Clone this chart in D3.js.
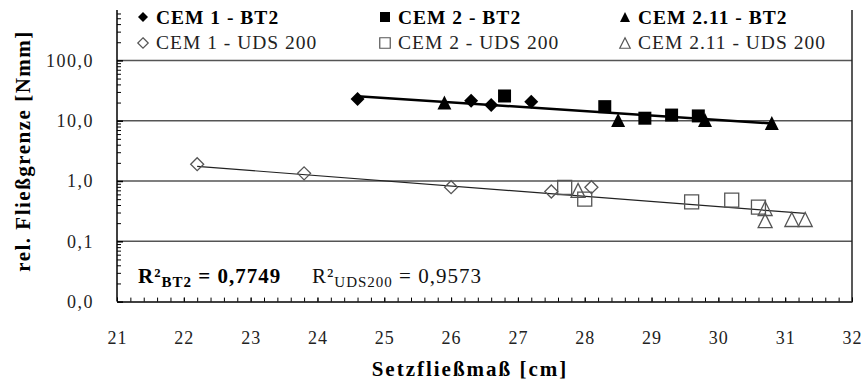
<!DOCTYPE html>
<html>
<head>
<meta charset="utf-8">
<script src="https://cdn.jsdelivr.net/npm/d3@7"></script>
<style>
  html, body { margin: 0; padding: 0; background: #fff; }
  svg { display: block; }
  svg text { font-family: "Liberation Serif", "Times New Roman", Tinos, "DejaVu Serif", serif !important; }
</style>
</head>
<body>
<svg id="chart" width="862" height="382" font-family="Liberation Serif, DejaVu Serif, serif"></svg>
<script>
// ---------------- data ----------------
const xTickValues = [21, 22, 23, 24, 25, 26, 27, 28, 29, 30, 31, 32];
const xTickLabels = ["21", "22", "23", "24", "25", "26", "27", "28", "29", "30", "31", "32"];
const yTickValues = [0.01, 0.1, 1, 10, 100];
const yTickLabels = ["0,0", "0,1", "1,0", "10,0", "100,0"];

const seriesNames = ["CEM 1 - BT2", "CEM 2 - BT2", "CEM 2.11 - BT2",
                     "CEM 1 - UDS 200", "CEM 2 - UDS 200", "CEM 2.11 - UDS 200"];

const cem1BT2X = [24.6, 26.3, 26.6, 27.2];
const cem1BT2Y = [22.9, 21.5, 18.2, 20.7];
const cem2BT2X = [26.8, 28.3, 28.9, 29.3, 29.7];
const cem2BT2Y = [25.7, 17.1, 11.0, 12.4, 12.0];
const cem211BT2X = [25.9, 28.5, 29.8, 30.8];
const cem211BT2Y = [20.0, 10.3, 10.3, 9.2];

const cem1UDSX = [22.2, 23.8, 26.0, 27.5, 28.1];
const cem1UDSY = [1.9, 1.34, 0.79, 0.67, 0.79];
const cem2UDSX = [27.7, 28.0, 29.6, 30.2, 30.6];
const cem2UDSY = [0.78, 0.50, 0.45, 0.48, 0.37];
const cem211UDSX = [27.9, 30.7, 30.7, 31.1, 31.3];
const cem211UDSY = [0.70, 0.35, 0.22, 0.23, 0.23];

// trendlines (start / end of each fitted line)
const trendBT2X = [24.6, 30.8];
const trendBT2Y = [25.5, 9.0];
const trendUDSX = [22.2, 31.3];
const trendUDSY = [1.75, 0.29];

const r2BT2 = "0,7749";
const r2UDS = "0,9573";

// ---------------- layout ----------------
const FONT = "Liberation Serif, DejaVu Serif, serif";
const svg = d3.select("#chart");
const plotLeft = 117, plotRight = 852, plotTop = 10, plotBottom = 301.6;

const x = d3.scaleLinear().domain([21, 32]).range([plotLeft, plotRight]);
const y = d3.scaleLog().domain([0.01, 1000]).range([plotBottom, plotBottom - 5 * 60.3]);

// custom marker shapes (Excel-like)
const diamondType = { draw(ctx, size) { const w = Math.sqrt(size) / 2;
  ctx.moveTo(0, -w); ctx.lineTo(w, 0); ctx.lineTo(0, w); ctx.lineTo(-w, 0); ctx.closePath(); } };
const squareType = { draw(ctx, size) { const w = Math.sqrt(size) / 2;
  ctx.rect(-w, -w, 2 * w, 2 * w); } };
const triangleType = { draw(ctx, size) { const w = Math.sqrt(size) / 2;
  ctx.moveTo(0, -w); ctx.lineTo(w, w); ctx.lineTo(-w, w); ctx.closePath(); } };

const zip = (xs, ys) => xs.map((v, i) => ({ x: v, y: ys[i] }));

const bt2Series = [
  { name: seriesNames[0], pts: zip(cem1BT2X, cem1BT2Y), type: diamondType, size: 196 },
  { name: seriesNames[1], pts: zip(cem2BT2X, cem2BT2Y), type: squareType, size: 169 },
  { name: seriesNames[2], pts: zip(cem211BT2X, cem211BT2Y), type: triangleType, size: 196 }
];
const udsSeries = [
  { name: seriesNames[3], pts: zip(cem1UDSX, cem1UDSY), type: diamondType, size: 169 },
  { name: seriesNames[4], pts: zip(cem2UDSX, cem2UDSY), type: squareType, size: 196 },
  { name: seriesNames[5], pts: zip(cem211UDSX, cem211UDSY), type: triangleType, size: 196 }
];

// ---------------- gridlines ----------------
svg.append("g").selectAll("line").data(yTickValues.filter(v => v > 0.01)).join("line")
  .attr("x1", plotLeft).attr("x2", plotRight)
  .attr("y1", d => y(d)).attr("y2", d => y(d))
  .attr("stroke", "#555").attr("stroke-width", 1.5);

// ---------------- axes ----------------
const yMinor = [];
[0.01, 0.1, 1, 10, 100].forEach(dec => { for (let k = 2; k <= 9; k++) { const v = dec * k; if (y(v) >= plotTop) yMinor.push(v); } });

const yMinorAxis = svg.append("g").attr("transform", `translate(${plotLeft},0)`)
  .call(d3.axisLeft(y).tickValues(yMinor).tickSizeInner(-4).tickSizeOuter(0).tickFormat(""));
yMinorAxis.select(".domain").remove();
yMinorAxis.selectAll("line").attr("stroke", "#000").attr("stroke-width", 1);

const yAxis = svg.append("g").attr("transform", `translate(${plotLeft},0)`)
  .call(d3.axisLeft(y).tickValues(yTickValues).tickSizeInner(-6).tickSizeOuter(0).tickPadding(23)
    .tickFormat((d, i) => yTickLabels[i]));
yAxis.attr("font-family", FONT);
yAxis.select(".domain").remove();
yAxis.selectAll("line").attr("stroke", "#000").attr("stroke-width", 1.5);
yAxis.selectAll("text").attr("font-family", FONT).attr("font-size", 18)
  .style("letter-spacing", "1.5px").attr("fill", "#222");

svg.append("line").attr("x1", plotLeft).attr("x2", plotLeft).attr("y1", plotTop).attr("y2", plotBottom)
  .attr("stroke", "#000").attr("stroke-width", 1.5);
svg.append("line").attr("x1", plotRight).attr("x2", plotRight).attr("y1", plotTop).attr("y2", plotBottom)
  .attr("stroke", "#222").attr("stroke-width", 1.5);

const xMinor = d3.range(0, 56).map(i => 21 + i * 0.2);
const xMinorAxis = svg.append("g").attr("transform", `translate(0,${plotBottom})`)
  .call(d3.axisBottom(x).tickValues(xMinor).tickSizeInner(-4).tickSizeOuter(0).tickFormat(""));
xMinorAxis.select(".domain").remove();
xMinorAxis.selectAll("line").attr("stroke", "#000").attr("stroke-width", 1);

const xAxis = svg.append("g").attr("transform", `translate(0,${plotBottom})`)
  .call(d3.axisBottom(x).tickValues(xTickValues).tickSizeInner(-4).tickSizeOuter(0).tickPadding(30)
    .tickFormat((d, i) => xTickLabels[i]));
xAxis.attr("font-family", FONT);
xAxis.select(".domain").attr("stroke", "#000").attr("stroke-width", 1.5);
xAxis.selectAll("line").attr("stroke", "#000").attr("stroke-width", 1);
xAxis.selectAll("text").attr("font-family", FONT).attr("font-size", 18)
  .style("letter-spacing", "1px").attr("fill", "#222");

// ---------------- trendlines ----------------
const line = d3.line().x(d => x(d.x)).y(d => y(d.y));
svg.append("path").datum(zip(trendUDSX, trendUDSY)).attr("d", line)
  .attr("fill", "none").attr("stroke", "#222").attr("stroke-width", 1.2);
svg.append("path").datum(zip(trendBT2X, trendBT2Y)).attr("d", line)
  .attr("fill", "none").attr("stroke", "#000").attr("stroke-width", 2.5);

// ---------------- markers ----------------
udsSeries.forEach(s => {
  svg.append("g").selectAll("path").data(s.pts).join("path")
    .attr("transform", d => `translate(${x(d.x)},${y(d.y)})`)
    .attr("d", d3.symbol().type(s.type).size(s.size))
    .attr("fill", "none").attr("stroke", "#555").attr("stroke-width", 1.3);
});
bt2Series.forEach(s => {
  svg.append("g").selectAll("path").data(s.pts).join("path")
    .attr("transform", d => `translate(${x(d.x)},${y(d.y)})`)
    .attr("d", d3.symbol().type(s.type).size(s.size))
    .attr("fill", "#000");
});

// ---------------- legend ----------------
const legendCols = [143, 385, 625];
const legendRows = [{ my: 17, base: 24, bold: true, fs: 19.5 }, { my: 43, base: 49, bold: false, fs: 19.5 }];
[bt2Series, udsSeries].forEach((group, r) => {
  group.forEach((s, c) => {
    const g = svg.append("g");
    g.append("path").attr("transform", `translate(${legendCols[c]},${legendRows[r].my})`)
      .attr("d", d3.symbol().type(s.type).size(r === 0 ? 100 : 110))
      .attr("fill", r === 0 ? "#000" : "none")
      .attr("stroke", r === 0 ? "none" : "#555").attr("stroke-width", 1.2);
    g.append("text").attr("x", legendCols[c] + 13).attr("y", legendRows[r].base)
      .attr("font-family", FONT)
      .attr("font-size", legendRows[r].fs).style("letter-spacing", "1px")
      .attr("font-weight", legendRows[r].bold ? "bold" : "normal")
      .attr("fill", r === 0 ? "#000" : "#222")
      .text(s.name);
  });
});

// ---------------- R² annotations ----------------
const t1 = svg.append("text").attr("x", 138).attr("y", 283).attr("font-size", 21)
  .attr("font-family", FONT)
  .attr("font-weight", "bold").style("letter-spacing", "1px").attr("fill", "#000");
t1.append("tspan").text("R²");
t1.append("tspan").attr("dy", 4).attr("font-size", 15).text("BT2");
t1.append("tspan").attr("dy", -4).text(" = " + r2BT2);

const t2 = svg.append("text").attr("x", 312).attr("y", 283).attr("font-size", 21)
  .attr("font-family", FONT)
  .style("letter-spacing", "1px").attr("fill", "#111");
t2.append("tspan").text("R²");
t2.append("tspan").attr("dy", 4).attr("font-size", 15).text("UDS200");
t2.append("tspan").attr("dy", -4).text(" = " + r2UDS);

// ---------------- axis titles ----------------
svg.append("text").attr("x", 470).attr("y", 376).attr("text-anchor", "middle")
  .attr("font-family", FONT)
  .attr("font-size", 21).attr("font-weight", "bold").style("letter-spacing", "2px")
  .attr("fill", "#000").text("Setzfließmaß [cm]");

svg.append("text").attr("transform", "translate(30,151) rotate(-90)").attr("text-anchor", "middle")
  .attr("font-family", FONT)
  .attr("font-size", 21).attr("font-weight", "bold").style("letter-spacing", "1.5px")
  .attr("fill", "#000").text("rel. Fließgrenze [Nmm]");
</script>
</body>
</html>
